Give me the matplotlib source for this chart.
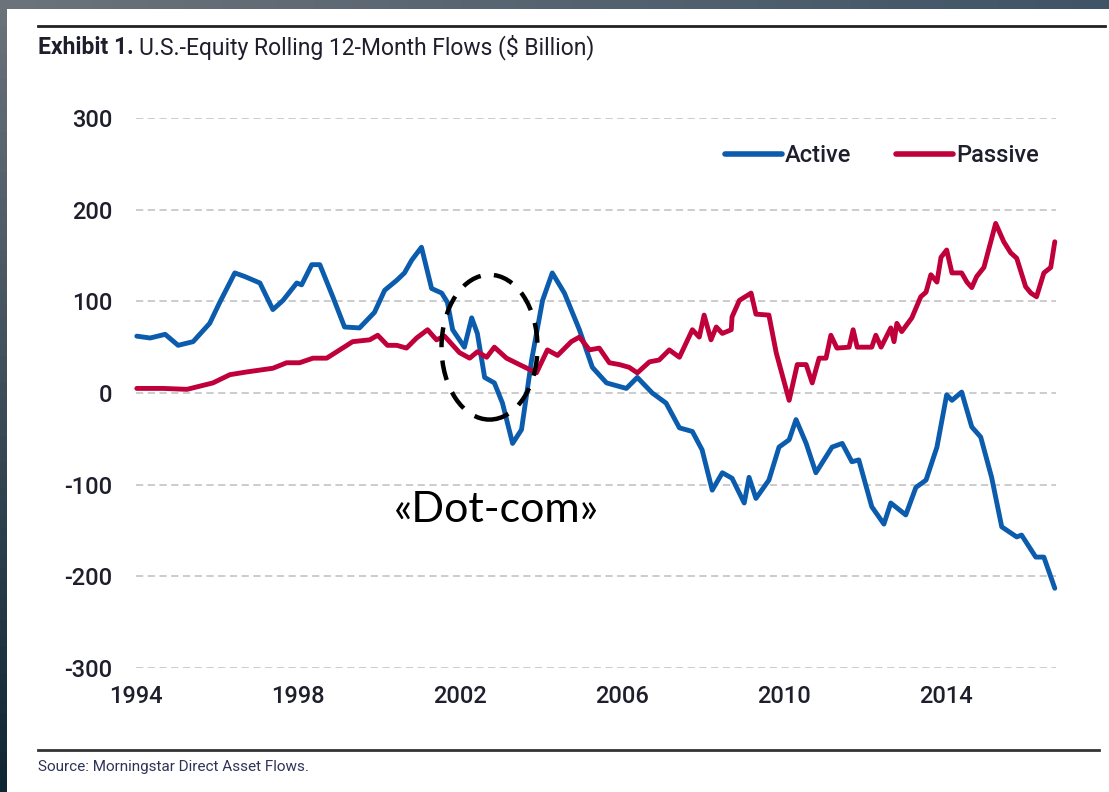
import numpy as np
import matplotlib
matplotlib.use('Agg')
import matplotlib.pyplot as plt
from matplotlib.patches import Ellipse, Rectangle
from matplotlib.lines import Line2D

# values (decimal year, $ billion)
active_years = [1994.02, 1994.35, 1994.72, 1995.04, 1995.41, 1995.82, 1996.07, 1996.44, 1996.69, 1997.06,
                1997.38, 1997.63, 1997.97, 1998.09, 1998.34, 1998.54, 1998.86, 1999.15, 1999.52, 1999.89,
                2000.14, 2000.44, 2000.63, 2000.81, 2001.05, 2001.30, 2001.55, 2001.69, 2001.82, 2002.11,
                2002.29, 2002.43, 2002.61, 2002.85, 2003.05, 2003.30, 2003.52, 2003.77, 2004.04, 2004.28,
                2004.58, 2004.95, 2005.27, 2005.62, 2006.11, 2006.38, 2006.75, 2007.09, 2007.42, 2007.74,
                2007.98, 2008.23, 2008.48, 2008.72, 2009.02, 2009.14, 2009.31, 2009.63, 2009.88, 2010.13,
                2010.30, 2010.55, 2010.79, 2011.19, 2011.44, 2011.68, 2011.85, 2012.17, 2012.47, 2012.64,
                2013.01, 2013.26, 2013.51, 2013.78, 2014.02, 2014.15, 2014.39, 2014.64, 2014.86, 2015.13,
                2015.38, 2015.75, 2015.87, 2016.22, 2016.42, 2016.69]
active_flows = [62, 60, 64, 52, 56, 76, 99, 131, 127, 120,
                91, 101, 120, 118, 140, 140, 105, 72, 71, 88,
                112, 123, 131, 145, 159, 114, 109, 99, 69, 50,
                82, 65, 17, 11, -11, -55, -40, 36, 101, 131,
                109, 69, 28, 11, 5, 17, 0, -11, -38, -42,
                -62, -106, -87, -93, -120, -92, -115, -95, -59, -51,
                -29, -55, -87, -59, -55, -75, -73, -124, -143, -120,
                -133, -103, -95, -59, -2, -8, 1, -37, -48, -92,
                -146, -157, -155, -179, -179, -213]

passive_years = [1994.02, 1994.67, 1995.26, 1995.90, 1996.32, 1996.74, 1997.38, 1997.72, 1998.04, 1998.37,
                 1998.71, 1999.03, 1999.35, 1999.77, 1999.97, 2000.21, 2000.44, 2000.68, 2000.93, 2001.20,
                 2001.42, 2001.62, 2001.99, 2002.24, 2002.43, 2002.66, 2002.85, 2003.15, 2003.47, 2003.89,
                 2004.16, 2004.41, 2004.75, 2004.95, 2005.20, 2005.44, 2005.69, 2005.94, 2006.18, 2006.38,
                 2006.68, 2006.92, 2007.17, 2007.42, 2007.74, 2007.91, 2008.03, 2008.20, 2008.33, 2008.48,
                 2008.70, 2008.72, 2008.90, 2009.19, 2009.31, 2009.63, 2009.81, 2010.13, 2010.33, 2010.55,
                 2010.70, 2010.87, 2011.04, 2011.16, 2011.31, 2011.61, 2011.71, 2011.81, 2012.17, 2012.27,
                 2012.40, 2012.64, 2012.72, 2012.79, 2012.91, 2013.16, 2013.38, 2013.51, 2013.63, 2013.78,
                 2013.88, 2014.02, 2014.15, 2014.39, 2014.52, 2014.64, 2014.76, 2014.94, 2015.23, 2015.43,
                 2015.60, 2015.75, 2015.97, 2016.10, 2016.24, 2016.42, 2016.59, 2016.69]
passive_flows = [5, 5, 4, 11, 20, 23, 27, 33, 33, 38,
                 38, 47, 56, 58, 63, 52, 52, 49, 60, 69,
                 58, 62, 44, 38, 45, 39, 50, 38, 31, 22,
                 47, 41, 56, 61, 47, 49, 33, 31, 28, 22,
                 34, 36, 47, 39, 69, 61, 85, 58, 72, 65,
                 69, 83, 101, 109, 86, 85, 44, -8, 31, 31,
                 11, 38, 38, 63, 49, 50, 69, 50, 50, 63,
                 50, 71, 56, 76, 67, 82, 105, 110, 129, 121,
                 148, 156, 131, 131, 121, 115, 127, 137, 185, 165,
                 153, 147, 116, 109, 105, 131, 137, 165]

x_ticks = [1994, 1998, 2002, 2006, 2010, 2014]
y_ticks = [-300, -200, -100, 0, 100, 200, 300]

plt.rcParams['axes.unicode_minus'] = False
narrow = ['Roboto', 'DejaVu Sans']
txt_col = '#1e1e2c'

fig = plt.figure(figsize=(11.09, 7.92), dpi=100)

# dark slide frame behind the white exhibit
bg = fig.add_axes([0, 0, 1, 1], zorder=-10)
tl = np.array([0.42, 0.45, 0.48])
tr = np.array([0.25, 0.33, 0.40])
bl = np.array([0.06, 0.15, 0.21])
u = np.linspace(0, 1, 60)[None, :, None]
v = np.linspace(0, 1, 60)[:, None, None]
grad = tl * (1 - u) * (1 - v) + tr * u * (1 - v) + bl * (1 - u) * v + bl * u * v
bg.imshow(grad, aspect='auto', extent=[0, 1, 0, 1])
bg.add_patch(Rectangle((7 / 1109, 0), 1, 1 - 9 / 792, facecolor='white', edgecolor='none'))
bg.set_xlim(0, 1)
bg.set_ylim(0, 1)
bg.axis('off')

ax = fig.add_axes([136 / 1109, 124 / 792, 920 / 1109, 550 / 792])
ax.set_facecolor('none')

for yv in y_ticks:
    ax.axhline(yv, color='#c8c8c8', lw=1.3, ls=(0, (4, 2.5)), zorder=1)

ax.plot(active_years, active_flows, color='#0b5cad', lw=3.5, solid_capstyle='round',
        solid_joinstyle='round', zorder=3, clip_on=False)
ax.plot(passive_years, passive_flows, color='#c0003a', lw=3.5, solid_capstyle='round',
        solid_joinstyle='round', zorder=3, clip_on=False)

ax.set_xlim(1994, 2016.72)
ax.set_ylim(-300, 300)
ax.set_xticks(x_ticks)
ax.set_yticks(y_ticks)
for s in ax.spines.values():
    s.set_visible(False)
ax.tick_params(axis='both', length=0, labelsize=17, labelcolor=txt_col)
ax.tick_params(axis='y', pad=17)
ax.tick_params(axis='x', pad=12)
for lab in ax.get_xticklabels() + ax.get_yticklabels():
    lab.set_family(narrow)
    lab.set_fontweight('medium')

handles = [Line2D([], [], color='#0b5cad', lw=4, solid_capstyle='round'),
           Line2D([], [], color='#c0003a', lw=4, solid_capstyle='round')]
ax.legend(handles, ['Active', 'Passive'], loc='center right', bbox_to_anchor=(1.005, 0.931),
          ncol=2, frameon=False, handlelength=2.4, handletextpad=0.15, columnspacing=1.9,
          prop={'family': narrow, 'size': 17, 'weight': 'medium'}, labelcolor=txt_col)

# dot-com annotation
ax.add_patch(Ellipse((2002.73, 50), 2.37, 158, fill=False, edgecolor='black', lw=3.2,
                     ls=(0, (4.5, 3)), zorder=5, clip_on=False))
ax.text(2002.9, -128, '«Dot-com»', ha='center', va='center', fontsize=31,
        family=['Lato', 'DejaVu Sans'], color='black')

# title, rules and source
fig.add_artist(Line2D([38 / 1109, 1105 / 1109], [1 - 26 / 792] * 2, color='#222222', lw=2))
fig.add_artist(Line2D([38 / 1109, 1099 / 1109], [1 - 750 / 792] * 2, color='#333333', lw=2))
t1 = fig.text(38 / 1109, 1 - 47 / 792, 'Exhibit 1.', fontsize=16.5, fontweight='bold',
              family=narrow, color=txt_col, va='center')
fig.canvas.draw()
bb = t1.get_window_extent()
fig.text((bb.x1 + 5) / 1109, 1 - 47 / 792, 'U.S.-Equity Rolling 12-Month Flows ($ Billion)', fontsize=16.5,
         family=narrow, color=txt_col, va='center')
fig.text(38 / 1109, 1 - 767 / 792, 'Source: Morningstar Direct Asset Flows.', fontsize=11,
         family=narrow, color='#2e3458', va='center')

fig.savefig('out.png', dpi=100)
